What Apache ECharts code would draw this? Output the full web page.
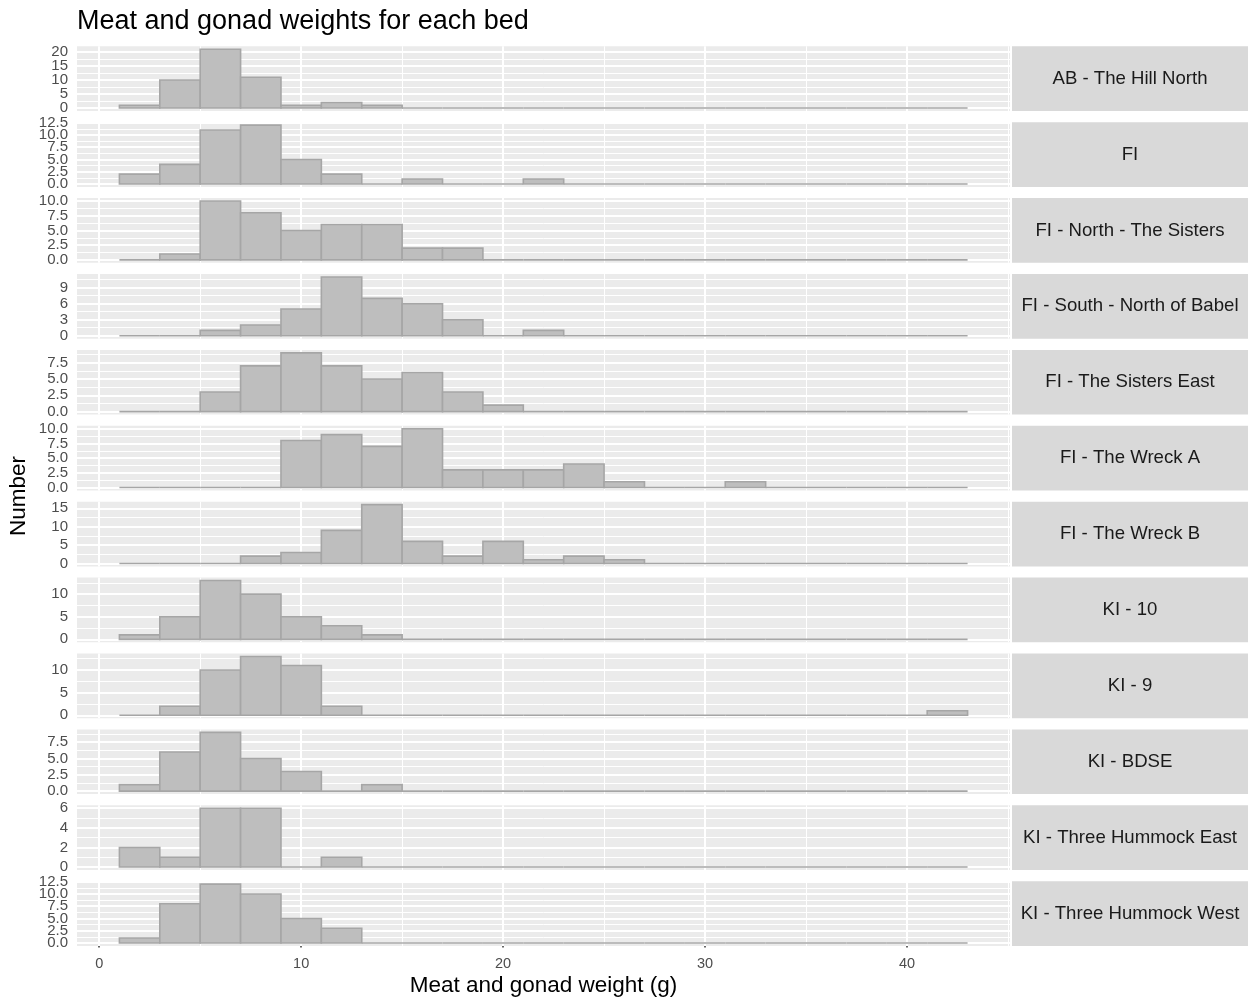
<!DOCTYPE html>
<html>
<head>
<meta charset="utf-8">
<script src="https://cdn.jsdelivr.net/npm/echarts@6/dist/echarts.min.js"></script>
<style>
  html, body { margin: 0; padding: 0; background: #fff; }
  #chart { width: 1248px; height: 1001px; }
</style>
</head>
<body>
<div id="chart"></div>
<script>
// ---------------- data ----------------
const chartTitle = "Meat and gonad weights for each bed";
const xAxisTitle = "Meat and gonad weight (g)";
const yAxisTitle = "Number";

const beds = [
  "AB - The Hill North",
  "FI",
  "FI - North - The Sisters",
  "FI - South - North of Babel",
  "FI - The Sisters East",
  "FI - The Wreck A",
  "FI - The Wreck B",
  "KI - 10",
  "KI - 9",
  "KI - BDSE",
  "KI - Three Hummock East",
  "KI - Three Hummock West"
];

// histogram bin edges (binwidth 2)
const binEdges = [1, 3, 5, 7, 9, 11, 13, 15, 17, 19, 21, 23, 25, 27, 29, 31, 33, 35, 37, 39, 41, 43];

// counts per bin for each bed
const countsABHillNorth     = [1, 10, 21, 11, 1, 2, 1, 0, 0, 0, 0, 0, 0, 0, 0, 0, 0, 0, 0, 0, 0];
const countsFI              = [2, 4, 11, 12, 5, 2, 0, 1, 0, 0, 1, 0, 0, 0, 0, 0, 0, 0, 0, 0, 0];
const countsFINorthSisters  = [0, 1, 10, 8, 5, 6, 6, 2, 2, 0, 0, 0, 0, 0, 0, 0, 0, 0, 0, 0, 0];
const countsFISouthBabel    = [0, 0, 1, 2, 5, 11, 7, 6, 3, 0, 1, 0, 0, 0, 0, 0, 0, 0, 0, 0, 0];
const countsFISistersEast   = [0, 0, 3, 7, 9, 7, 5, 6, 3, 1, 0, 0, 0, 0, 0, 0, 0, 0, 0, 0, 0];
const countsFIWreckA        = [0, 0, 0, 0, 8, 9, 7, 10, 3, 3, 3, 4, 1, 0, 0, 1, 0, 0, 0, 0, 0];
const countsFIWreckB        = [0, 0, 0, 2, 3, 9, 16, 6, 2, 6, 1, 2, 1, 0, 0, 0, 0, 0, 0, 0, 0];
const countsKI10            = [1, 5, 13, 10, 5, 3, 1, 0, 0, 0, 0, 0, 0, 0, 0, 0, 0, 0, 0, 0, 0];
const countsKI9             = [0, 2, 10, 13, 11, 2, 0, 0, 0, 0, 0, 0, 0, 0, 0, 0, 0, 0, 0, 0, 1];
const countsKIBDSE          = [1, 6, 9, 5, 3, 0, 1, 0, 0, 0, 0, 0, 0, 0, 0, 0, 0, 0, 0, 0, 0];
const countsKIHummockEast   = [2, 1, 6, 6, 0, 1, 0, 0, 0, 0, 0, 0, 0, 0, 0, 0, 0, 0, 0, 0, 0];
const countsKIHummockWest   = [1, 8, 12, 10, 5, 3, 0, 0, 0, 0, 0, 0, 0, 0, 0, 0, 0, 0, 0, 0, 0];

// tick labels
const xTickLabels = ["0", "10", "20", "30", "40"];
const yTicksABHillNorth    = ["0", "5", "10", "15", "20"];
const yTicksFI             = ["0.0", "2.5", "5.0", "7.5", "10.0", "12.5"];
const yTicksFINorthSisters = ["0.0", "2.5", "5.0", "7.5", "10.0"];
const yTicksFISouthBabel   = ["0", "3", "6", "9"];
const yTicksFISistersEast  = ["0.0", "2.5", "5.0", "7.5"];
const yTicksFIWreckA       = ["0.0", "2.5", "5.0", "7.5", "10.0"];
const yTicksFIWreckB       = ["0", "5", "10", "15"];
const yTicksKI10           = ["0", "5", "10"];
const yTicksKI9            = ["0", "5", "10"];
const yTicksKIBDSE         = ["0.0", "2.5", "5.0", "7.5"];
const yTicksKIHummockEast  = ["0", "2", "4", "6"];
const yTicksKIHummockWest  = ["0.0", "2.5", "5.0", "7.5", "10.0", "12.5"];

const panelCounts = [countsABHillNorth, countsFI, countsFINorthSisters, countsFISouthBabel,
  countsFISistersEast, countsFIWreckA, countsFIWreckB, countsKI10, countsKI9, countsKIBDSE,
  countsKIHummockEast, countsKIHummockWest];
const panelYTicks = [yTicksABHillNorth, yTicksFI, yTicksFINorthSisters, yTicksFISouthBabel,
  yTicksFISistersEast, yTicksFIWreckA, yTicksFIWreckB, yTicksKI10, yTicksKI9, yTicksKIBDSE,
  yTicksKIHummockEast, yTicksKIHummockWest];

// ---------------- layout / style ----------------
const FONT = '"Liberation Sans", Arial, sans-serif';
const PANEL_LEFT = 77;
const PANEL_RIGHT = 1010;
const PANEL_TOP0 = 46.3;
const PANEL_PITCH = 75.9;
const PANEL_H = 64.7;
const STRIP_LEFT = 1012;
const STRIP_RIGHT = 1248;
const BG = '#EBEBEB';
const GRID_MAJOR_W = 2;
const GRID_MINOR_W = 1;
const Y_LABEL_GAP = 9;

// ggplot-like 5% expansion
const xLo = binEdges[0], xHi = binEdges[binEdges.length - 1];
const xPad = (xHi - xLo) * 0.05;
const xMin = xLo - xPad, xMax = xHi + xPad;
const xMajor = xTickLabels.map(Number);
function minorsOf(major, lo, hi) {
  const out = [];
  const step = major.length > 1 ? major[1] - major[0] : 1;
  const ext = [major[0] - step].concat(major, [major[major.length - 1] + step]);
  for (let i = 0; i < ext.length - 1; i++) {
    const m = (ext[i] + ext[i + 1]) / 2;
    if (m > lo && m < hi) out.push(m);
  }
  return out;
}
const xMinor = minorsOf(xMajor, xMin, xMax);

const grids = [], xAxes = [], yAxes = [], series = [], graphics = [];
const n = beds.length;

for (let i = 0; i < n; i++) {
  const top = PANEL_TOP0 + PANEL_PITCH * i;
  const counts = panelCounts[i];
  const yLabels = panelYTicks[i];
  const yVals = yLabels.map(Number);
  const cMax = Math.max.apply(null, counts);
  const yMin = -0.05 * cMax, yMax = 1.05 * cMax;
  const yMinor = minorsOf(yVals, yMin, yMax);
  const isLast = i === n - 1;

  grids.push({
    left: PANEL_LEFT, top: top, width: PANEL_RIGHT - PANEL_LEFT, height: PANEL_H,
    show: true, backgroundColor: BG, borderWidth: 0, containLabel: false,
    outerBoundsMode: 'none'
  });

  xAxes.push({
    type: 'value', gridIndex: i, min: xMin, max: xMax, position: 'bottom',
    axisLine: { show: false },
    axisTick: { show: isLast, customValues: xMajor, length: 4.5, lineStyle: { color: '#333333', width: 1.5 } },
    axisLabel: {
      show: isLast, customValues: xMajor, margin: 11,
      showMinLabel: true, showMaxLabel: true, hideOverlap: false,
      color: '#4D4D4D', fontSize: 14.5, fontFamily: FONT,
      formatter: (v) => { const k = xMajor.indexOf(v); return k >= 0 ? xTickLabels[k] : ''; }
    },
    splitLine: { show: false },
    name: isLast ? xAxisTitle : '',
    nameLocation: 'middle', nameGap: 28,
    nameTextStyle: { color: '#000000', fontSize: 22.5, fontFamily: FONT }
  });

  yAxes.push({
    type: 'value', gridIndex: i, min: yMin, max: yMax,
    axisLine: { show: false },
    axisTick: { show: true, customValues: yVals, length: 4.5, lineStyle: { color: '#333333', width: 1.5 } },
    axisLabel: { show: false },
    splitLine: { show: false }
  });

  // gridlines (through the axes' scales)
  const lines = [];
  xMinor.forEach(v => lines.push({ xAxis: v, lineStyle: { width: GRID_MINOR_W } }));
  yMinor.forEach(v => lines.push({ yAxis: v, lineStyle: { width: GRID_MINOR_W } }));
  xMajor.forEach(v => lines.push({ xAxis: v, lineStyle: { width: GRID_MAJOR_W } }));
  yVals.forEach(v => lines.push({ yAxis: v, lineStyle: { width: GRID_MAJOR_W } }));
  series.push({
    type: 'line', xAxisIndex: i, yAxisIndex: i, data: [], z: 1, silent: true,
    markLine: {
      silent: true, symbol: ['none', 'none'], animation: false,
      label: { show: false },
      lineStyle: { color: '#FFFFFF', type: 'solid' },
      emphasis: { disabled: true },
      data: lines
    }
  });

  // histogram bars
  const binData = counts.map((c, k) => [binEdges[k], binEdges[k + 1], c]);
  series.push({
    type: 'custom', xAxisIndex: i, yAxisIndex: i, z: 10, silent: true,
    encode: { x: [0, 1], y: 2 },
    data: binData,
    renderItem: function (params, api) {
      const a = api.coord([api.value(0), api.value(2)]);
      const b = api.coord([api.value(1), 0]);
      return {
        type: 'polygon',
        shape: { points: [[a[0], b[1]], [a[0], a[1]], [b[0], a[1]], [b[0], b[1]]] },
        style: { fill: '#BEBEBE', stroke: '#A6A6A6', lineWidth: 1.6 }
      };
    }
  });

  // facet strip
  graphics.push({
    type: 'group', id: 'strip' + i, left: STRIP_LEFT, top: top,
    children: [
      { type: 'rect', shape: { x: 0, y: 0, width: STRIP_RIGHT - STRIP_LEFT, height: PANEL_H },
        style: { fill: '#D9D9D9' } },
      { type: 'text', x: (STRIP_RIGHT - STRIP_LEFT) / 2, y: PANEL_H / 2,
        style: { text: beds[i], fill: '#1A1A1A', font: '18.6px ' + FONT,
                 textAlign: 'center', textVerticalAlign: 'middle' } }
    ]
  });
}

// y axis title
graphics.push({
  type: 'text', id: 'ytitle', x: 19, y: PANEL_TOP0 + (PANEL_PITCH * (n - 1) + PANEL_H) / 2, rotation: Math.PI / 2,
  style: { text: yAxisTitle, fill: '#000000', font: '22.5px ' + FONT,
           textAlign: 'center', textVerticalAlign: 'middle' }
});

const chart = echarts.init(document.getElementById('chart'), null, { renderer: 'canvas' });
chart.setOption({
  animation: false,
  backgroundColor: '#FFFFFF',
  title: {
    text: chartTitle, left: 77, top: 8, padding: 0,
    textStyle: { color: '#000000', fontSize: 27, fontWeight: 'normal', fontFamily: FONT }
  },
  grid: grids,
  xAxis: xAxes,
  yAxis: yAxes,
  series: series,
  graphic: graphics
});

// y tick labels, placed through each panel's y scale (ECharts would drop the crowded ones)
const yLabelGraphics = [];
for (let i = 0; i < n; i++) {
  const labels = panelYTicks[i];
  labels.forEach((lab, k) => {
    const py = chart.convertToPixel({ yAxisIndex: i }, Number(lab));
    yLabelGraphics.push({
      type: 'text', id: 'ylab_' + i + '_' + k, x: PANEL_LEFT - Y_LABEL_GAP, y: py,
      style: { text: lab, fill: '#4D4D4D', font: '15px ' + FONT,
               textAlign: 'right', textVerticalAlign: 'middle' }
    });
  });
}
chart.setOption({ graphic: yLabelGraphics });
</script>
</body>
</html>
